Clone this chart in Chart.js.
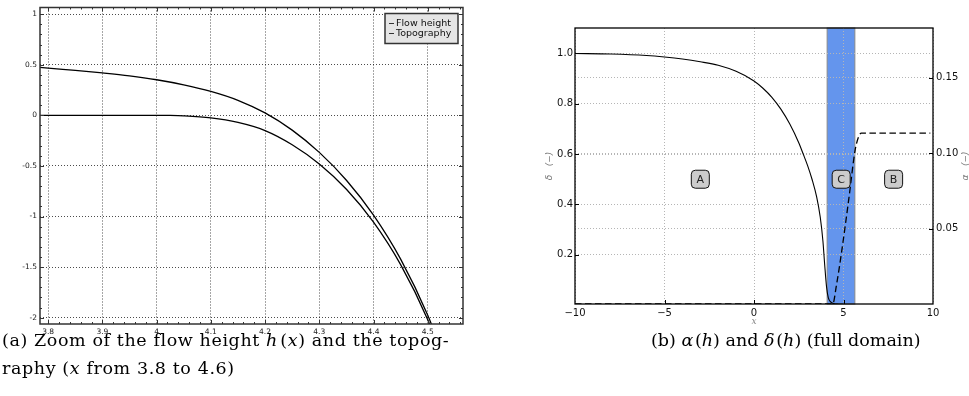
<!DOCTYPE html>
<html>
<head>
<meta charset="utf-8">
<script src="https://cdn.jsdelivr.net/npm/chart.js@4/dist/chart.umd.min.js"></script>
<style>
  body { margin: 0; background: #fff; width: 969px; height: 396px; overflow: hidden; position: relative; }
  #left-wrap { position: absolute; left: 0; top: 0; width: 480px; height: 340px; }
  #right-wrap { position: absolute; left: 480px; top: 0; width: 489px; height: 340px; }
  .caption { position: absolute; font-family: 'DejaVu Serif', serif; font-size: 17.5px; color: #000; line-height: 28px; white-space: nowrap; }
  .caption i { font-style: italic; }
</style>
</head>
<body>
<div id="left-wrap"><canvas id="flow-chart"></canvas></div>
<div id="right-wrap"><canvas id="alpha-chart"></canvas></div>
<div class="caption" style="left:2px; top:326px; letter-spacing:0.6px;">(a) Zoom of the flow height <i>h</i>&#8202;(<i>x</i>) and the topog-<br>raphy (<i>x</i> from 3.8 to 4.6)</div>
<div class="caption" style="left:651px; top:326px;">(b) <i>α</i>&#8202;(<i>h</i>) and <i>δ</i>&#8202;(<i>h</i>) (full domain)</div>
<script>
// (a) flow height / topography zoom
const flowX = [3.785, 3.8, 3.85, 3.9, 3.95, 4.0, 4.05, 4.1, 4.15, 4.2, 4.25, 4.3, 4.35, 4.4, 4.45, 4.5, 4.55];
const flowH = [0.474, 0.466, 0.444, 0.419, 0.39, 0.352, 0.302, 0.237, 0.149, 0.024, -0.146, -0.366, -0.641, -0.986, -1.421, -1.976, -2.676];
const topoX = [3.785, 3.85, 3.9, 3.95, 4.0, 4.025, 4.05, 4.1, 4.15, 4.2, 4.25, 4.3, 4.35, 4.4, 4.45, 4.5, 4.55];
const topoY = [0, 0, 0, 0, 0, -0.001, -0.005, -0.025, -0.07, -0.15, -0.29, -0.48, -0.73, -1.055, -1.475, -2.02, -2.72];
const flowXTicks = [3.8, 3.9, 4.0, 4.1, 4.2, 4.3, 4.4, 4.5];
const flowYTicks = [-2, -1.5, -1, -0.5, 0, 0.5, 1];
const flowLabels = ['Flow height', 'Topography'];

// (b) alpha and delta over the full domain
const deltaX = [-10, -8, -6, -5, -4, -3, -2, -1, 0, 0.5, 1, 1.5, 2, 2.5, 2.75, 3, 3.25, 3.5, 3.7, 3.85, 3.95, 4.05, 4.15, 4.3, 4.5, 4.8, 5];
const deltaY = [0.999, 0.997, 0.991, 0.985, 0.977, 0.966, 0.952, 0.928, 0.89, 0.861, 0.825, 0.778, 0.719, 0.645, 0.60, 0.553, 0.498, 0.43, 0.35, 0.255, 0.16, 0.075, 0.03, 0.012, 0.006, 0.004, 0.003];
const alphaX = [-10, 4.4, 4.6, 4.9, 5.3, 5.65, 5.85, 6.0, 9.85];
const alphaY = [0, 0, 0.012, 0.035, 0.070, 0.102, 0.111, 0.1133, 0.1133];
const xTicksB = [-10, -5, 0, 5, 10];
const deltaTicks = [0.2, 0.4, 0.6, 0.8, 1.0];
const alphaTicks = [0.05, 0.10, 0.15];
const bandX = [4.085, 5.635];
const regionNames = ['A', 'C', 'B'];
const regionX = [-3, 4.87, 7.8];
const regionY = [0.5, 0.5, 0.5];

const zip = (xs, ys) => xs.map((x, i) => ({ x: x, y: ys[i] }));
const fixTicks = list => scale => { scale.ticks = list.map(v => ({ value: v })); };

// frame + inward ticks, matplotlib style
function frameTicks(opts) {
    return {
        id: 'frameTicks',
        afterDraw(chart) {
            const { ctx, chartArea: a } = chart;
            ctx.save();
            ctx.strokeStyle = opts.color;
            ctx.lineWidth = 1;
            const tick = (x1, y1, x2, y2) => { ctx.beginPath(); ctx.moveTo(x1, y1); ctx.lineTo(x2, y2); ctx.stroke(); };
            for (const t of opts.x || []) {
                const px = Math.round(chart.scales.x.getPixelForValue(t.v)) + 0.5;
                if (opts.bottom) tick(px, a.bottom, px, a.bottom - t.len);
                if (opts.top) tick(px, a.top, px, a.top + t.len);
            }
            for (const t of opts.y || []) {
                const py = Math.round(chart.scales[t.axis].getPixelForValue(t.v)) + 0.5;
                if (t.left) tick(a.left, py, a.left + t.len, py);
                if (t.right) tick(a.right, py, a.right - t.len, py);
            }
            ctx.lineWidth = opts.frameWidth;
            ctx.strokeRect(a.left, a.top, a.right - a.left, a.bottom - a.top);
            ctx.restore();
        }
    };
}

// ---------- chart (a)
const minorX = [];
for (let v = 3.8; v < 4.565; v += 0.02) minorX.push(+v.toFixed(2));
const minorY = [];
for (let v = -2; v <= 1.0001; v += 0.1) minorY.push(+v.toFixed(1));

const legendBox = {
    id: 'legendBox',
    afterDraw(chart) {
        const { ctx, chartArea: a } = chart;
        const w = 73, h = 30;
        const x0 = a.right - w - 5, y0 = a.top + 6;
        ctx.save();
        ctx.fillStyle = '#e5e5e5';
        ctx.fillRect(x0, y0, w, h);
        ctx.strokeStyle = '#333';
        ctx.lineWidth = 1.5;
        ctx.strokeRect(x0, y0, w, h);
        ctx.font = '9.5px "DejaVu Sans"';
        ctx.fillStyle = '#111';
        ctx.textBaseline = 'middle';
        chart.data.datasets.forEach((ds, i) => {
            const y = y0 + 9.5 + i * 10;
            ctx.beginPath();
            ctx.lineWidth = 1;
            ctx.moveTo(x0 + 4, y + 0.5);
            ctx.lineTo(x0 + 9, y + 0.5);
            ctx.stroke();
            ctx.fillText(ds.label, x0 + 11, y + 0.5);
        });
        ctx.restore();
    }
};

new Chart(document.getElementById('flow-chart'), {
    type: 'scatter',
    data: {
        datasets: [
            { label: flowLabels[0], data: zip(flowX, flowH) },
            { label: flowLabels[1], data: zip(topoX, topoY) }
        ].map(d => Object.assign(d, {
            showLine: true, borderColor: '#000', borderWidth: 1.3, pointRadius: 0,
            cubicInterpolationMode: 'monotone'
        }))
    },
    options: {
        responsive: true,
        maintainAspectRatio: false,
        animation: false,
        layout: { padding: { top: 7, right: 17, left: 0, bottom: 0 } },
        plugins: { legend: { display: false }, tooltip: { enabled: false } },
        scales: {
            x: {
                type: 'linear', min: 3.785, max: 4.565,
                afterBuildTicks: fixTicks(flowXTicks),
                afterFit: s => { s.height = 16; },
                grid: { color: 'rgba(0,0,0,0.7)', drawTicks: false },
                border: { display: false, dash: [1, 2] },
                ticks: { font: { family: 'DejaVu Sans', size: 7.5 }, color: '#222', padding: 4, maxRotation: 0,
                         callback: v => String(+v.toFixed(2)) }
            },
            y: {
                min: -2.062, max: 1.066,
                afterBuildTicks: fixTicks(flowYTicks),
                afterFit: s => { s.width = 40; },
                grid: { color: 'rgba(0,0,0,0.7)', drawTicks: false },
                border: { display: false, dash: [1, 2] },
                ticks: { font: { family: 'DejaVu Sans', size: 7.5 }, color: '#222', padding: 3,
                         callback: v => String(+v.toFixed(2)) }
            }
        }
    },
    plugins: [legendBox, frameTicks({
        color: '#333', frameWidth: 1.5, bottom: true, top: true,
        x: flowXTicks.map(v => ({ v, len: 4 })).concat(minorX.map(v => ({ v, len: 2 }))),
        y: flowYTicks.map(v => ({ v, len: 4, axis: 'y', left: true, right: true }))
            .concat(minorY.map(v => ({ v, len: 2, axis: 'y', left: true, right: true })))
    })]
});

// ---------- chart (b)
const bandPlugin = {
    id: 'band',
    beforeDraw(chart) {
        const { ctx, chartArea: a, scales } = chart;
        const x1 = scales.x.getPixelForValue(bandX[0]);
        const x2 = scales.x.getPixelForValue(bandX[1]);
        ctx.save();
        ctx.fillStyle = '#6495ed';
        ctx.fillRect(x1, a.top, x2 - x1, a.bottom - a.top);
        ctx.strokeStyle = '#8a8a8a';
        ctx.lineWidth = 1;
        ctx.strokeRect(x1, a.top, x2 - x1, a.bottom - a.top);
        ctx.restore();
    }
};

const regionPlugin = {
    id: 'regions',
    afterDatasetsDraw(chart) {
        const { ctx, scales } = chart;
        ctx.save();
        ctx.font = '11px "DejaVu Sans"';
        ctx.textAlign = 'center';
        ctx.textBaseline = 'middle';
        regionNames.forEach((name, i) => {
            const cx = scales.x.getPixelForValue(regionX[i]);
            const cy = scales.y.getPixelForValue(regionY[i]);
            ctx.beginPath();
            ctx.roundRect(cx - 9, cy - 9, 18, 18, 4);
            ctx.fillStyle = '#cccccc';
            ctx.fill();
            ctx.strokeStyle = '#111';
            ctx.lineWidth = 1;
            ctx.stroke();
            ctx.fillStyle = '#222';
            ctx.fillText(name, cx, cy + 0.5);
        });
        // right axis label, rotated like the left one
        const a = chart.chartArea;
        ctx.translate(a.right + 33, (a.top + a.bottom) / 2);
        ctx.rotate(-Math.PI / 2);
        ctx.font = 'italic 9px "DejaVu Sans"';
        ctx.fillStyle = '#777';
        ctx.fillText('α   (−)', 0, 0);
        ctx.restore();
    }
};

const minus = v => (v < 0 ? '\u2212' + Math.abs(v) : String(v));

new Chart(document.getElementById('alpha-chart'), {
    type: 'scatter',
    data: {
        datasets: [
            { label: 'δ', data: zip(deltaX, deltaY), yAxisID: 'y', borderWidth: 1.1 },
            { label: 'α', data: zip(alphaX, alphaY), yAxisID: 'y2', borderWidth: 1.3, borderDash: [6.5, 3.5] }
        ].map(d => Object.assign(d, {
            showLine: true, borderColor: '#000', pointRadius: 0, cubicInterpolationMode: 'monotone'
        }))
    },
    options: {
        responsive: true,
        maintainAspectRatio: false,
        animation: false,
        layout: { padding: { top: 28, right: 0, left: 64, bottom: 0 } },
        plugins: { legend: { display: false }, tooltip: { enabled: false } },
        scales: {
            x: {
                type: 'linear', min: -10, max: 10,
                afterBuildTicks: fixTicks(xTicksB),
                afterFit: s => { s.height = 36; },
                grid: { color: '#b5b5b5', drawTicks: false },
                border: { display: false, dash: [1, 2] },
                ticks: { font: { family: 'DejaVu Sans', size: 10 }, color: '#111', padding: 3, maxRotation: 0, callback: minus },
                title: { display: true, text: 'x', font: { family: 'DejaVu Serif', size: 9, style: 'italic' }, color: '#888', padding: { top: 0, bottom: 13 } }
            },
            y: {
                min: 0.005, max: 1.1,
                afterBuildTicks: fixTicks(deltaTicks),
                afterFit: s => { s.width = 31; },
                grid: { color: '#b5b5b5', drawTicks: false },
                border: { display: false, dash: [1, 2] },
                ticks: { font: { family: 'DejaVu Sans', size: 10 }, color: '#111', padding: 2, callback: v => v.toFixed(1) },
                title: { display: true, text: 'δ   (−)', font: { family: 'DejaVu Sans', size: 9, style: 'italic' }, color: '#777', padding: { top: 0, bottom: 0 } }
            },
            y2: {
                position: 'right', min: 0, max: 0.183,
                afterBuildTicks: fixTicks(alphaTicks),
                afterFit: s => { s.width = 36; },
                grid: { color: '#b5b5b5', drawTicks: false },
                border: { display: false, dash: [1, 2] },
                ticks: { font: { family: 'DejaVu Sans', size: 10 }, color: '#111', padding: 3, callback: v => v.toFixed(2) }
            }
        }
    },
    plugins: [bandPlugin, regionPlugin, frameTicks({
        color: '#000', frameWidth: 1.3, bottom: true, top: false,
        x: [-5, 0, 5].map(v => ({ v, len: 4 })),
        y: deltaTicks.map(v => ({ v, len: 4, axis: 'y', left: true }))
            .concat(alphaTicks.map(v => ({ v, len: 4, axis: 'y2', right: true })))
    })]
});
</script>
</body>
</html>
